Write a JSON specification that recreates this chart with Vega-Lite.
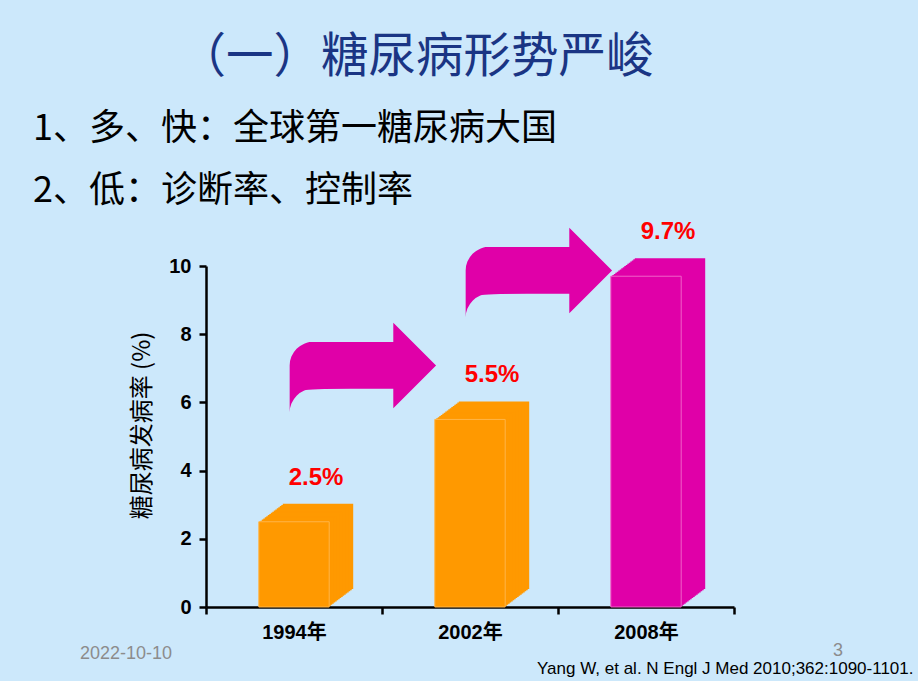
{
  "$schema": "https://vega.github.io/schema/vega-lite/v6.json",
  "background": "#CCE8FB",
  "padding": {"left": 33, "top": 34, "right": 5, "bottom": 5},
  "config": {"view": {"stroke": null}, "concat": {"spacing": 0}},
  "title": {"text": "（一）糖尿病形势严峻", "anchor": "middle", "dx": -57, "font": "Noto Sans CJK SC", "fontSize": 47.5, "fontWeight": "normal", "color": "#1A3584", "offset": 29},
  "datasets": {
    "bars": [
      {"year": "1994年", "rate": 2.5, "label": "2.5%"},
      {"year": "2002年", "rate": 5.5, "label": "5.5%"},
      {"year": "2008年", "rate": 9.7, "label": "9.7%"}
    ],
    "arrows": [
      {"year": "1994年", "level": 7.0},
      {"year": "2002年", "level": 9.8}
    ]
  },
  "vconcat": [
    {
      "title": {"text": "3", "orient": "bottom", "anchor": "end", "dx": -70, "dy": -34, "font": "Liberation Sans", "fontSize": 18, "fontWeight": "normal", "color": "#8C8C8C", "offset": 0},
      "vconcat": [
        {
          "title": {"text": "2022-10-10", "orient": "bottom", "anchor": "start", "dx": 47, "dy": -31, "font": "Liberation Sans", "fontSize": 18, "fontWeight": "normal", "color": "#8C8C8C", "offset": 0},
          "vconcat": [
            {
              "width": 528,
              "height": 341,
              "title": {"text": ["1、多、快：全球第一糖尿病大国", "2、低：诊断率、控制率"], "anchor": "start", "frame": "group", "dx": -173, "font": "Noto Sans CJK SC", "fontSize": 36, "fontWeight": "normal", "color": "#000000", "lineHeight": 62, "offset": -37},
              "encoding": {
                "x": {"field": "year", "type": "nominal", "sort": null, "title": "Yang W, et al. N Engl J Med 2010;362:1090-1101.",
                  "scale": {"domain": ["1994年", "2002年", "2008年"], "paddingInner": 0, "paddingOuter": 0},
                  "axis": {"labelAngle": 0, "tickBand": "extent", "domainColor": "#000000", "domainWidth": 2.5, "tickColor": "#000000", "tickWidth": 2.5, "tickSize": 7, "labelFont": "Liberation Sans, Noto Sans CJK SC", "labelFontSize": 20, "labelFontWeight": "bold", "labelColor": "#000000", "labelPadding": 8, "titleFont": "Liberation Sans", "titleFontSize": 17, "titleFontWeight": "normal", "titleColor": "#000000", "titleX": 707, "titleY": 61, "titleAlign": "right", "titleBaseline": "middle"}
                }
              },
              "layer": [
                {
                  "data": {"name": "bars"},
                  "encoding": {
                    "y": {"field": "rate", "type": "quantitative", "title": "糖尿病发病率 (%)",
                      "scale": {"domain": [0, 10]},
                      "axis": {"values": [0, 1, 2, 3, 4, 5, 6, 7, 8, 9, 10], "labelExpr": "datum.value % 2 === 0 ? datum.label : ''", "grid": false, "domainColor": "#000000", "domainWidth": 2.5, "tickColor": "#000000", "tickWidth": 2.5, "tickSize": 7, "labelFont": "Liberation Sans", "labelFontSize": 20, "labelFontWeight": "bold", "labelColor": "#000000", "labelPadding": 8, "titleFont": "Noto Sans CJK SC", "titleFontSize": 24, "titleFontWeight": "normal", "titleColor": "#000000", "titlePadding": 14, "titleY": 159}
                    },
                    "color": {"field": "year", "type": "nominal", "scale": {"domain": ["1994年", "2002年", "2008年"], "range": ["#FF9900", "#FF9900", "#E000A8"]}, "legend": null}
                  },
                  "layer": [
                    {"mark": {"type": "bar", "width": {"band": 0.4}, "xOffset": 24, "yOffset": -18, "y2Offset": -18}},
                    {"mark": {"type": "bar", "width": {"band": 0.4}, "xOffset": 22.5, "yOffset": -16.875, "y2Offset": -16.875}},
                    {"mark": {"type": "bar", "width": {"band": 0.4}, "xOffset": 21, "yOffset": -15.75, "y2Offset": -15.75}},
                    {"mark": {"type": "bar", "width": {"band": 0.4}, "xOffset": 19.5, "yOffset": -14.625, "y2Offset": -14.625}},
                    {"mark": {"type": "bar", "width": {"band": 0.4}, "xOffset": 18, "yOffset": -13.5, "y2Offset": -13.5}},
                    {"mark": {"type": "bar", "width": {"band": 0.4}, "xOffset": 16.5, "yOffset": -12.375, "y2Offset": -12.375}},
                    {"mark": {"type": "bar", "width": {"band": 0.4}, "xOffset": 15, "yOffset": -11.25, "y2Offset": -11.25}},
                    {"mark": {"type": "bar", "width": {"band": 0.4}, "xOffset": 13.5, "yOffset": -10.125, "y2Offset": -10.125}},
                    {"mark": {"type": "bar", "width": {"band": 0.4}, "xOffset": 12, "yOffset": -9, "y2Offset": -9}},
                    {"mark": {"type": "bar", "width": {"band": 0.4}, "xOffset": 10.5, "yOffset": -7.875, "y2Offset": -7.875}},
                    {"mark": {"type": "bar", "width": {"band": 0.4}, "xOffset": 9, "yOffset": -6.75, "y2Offset": -6.75}},
                    {"mark": {"type": "bar", "width": {"band": 0.4}, "xOffset": 7.5, "yOffset": -5.625, "y2Offset": -5.625}},
                    {"mark": {"type": "bar", "width": {"band": 0.4}, "xOffset": 6, "yOffset": -4.5, "y2Offset": -4.5}},
                    {"mark": {"type": "bar", "width": {"band": 0.4}, "xOffset": 4.5, "yOffset": -3.375, "y2Offset": -3.375}},
                    {"mark": {"type": "bar", "width": {"band": 0.4}, "xOffset": 3, "yOffset": -2.25, "y2Offset": -2.25}},
                    {"mark": {"type": "bar", "width": {"band": 0.4}, "xOffset": 1.5, "yOffset": -1.125, "y2Offset": -1.125}},
                    {"mark": {"type": "bar", "width": {"band": 0.4}, "strokeWidth": 1},
                     "encoding": {"stroke": {"field": "year", "type": "nominal", "scale": {"domain": ["1994年", "2002年", "2008年"], "range": ["#FFB547", "#FFB547", "#F060C8"]}, "legend": null}}}
                  ]
                },
                {
                  "data": {"name": "bars"},
                  "mark": {"type": "text", "font": "Liberation Sans", "fontSize": 24, "fontWeight": "bold", "color": "#FF0000", "dx": 22, "dy": -44, "baseline": "middle", "align": "center"},
                  "encoding": {
                    "y": {"field": "rate", "type": "quantitative", "title": "糖尿病发病率 (%)"},
                    "text": {"field": "label", "type": "nominal"}
                  }
                },
                {
                  "data": {"name": "arrows"},
                  "mark": {"type": "text", "text": "➦", "font": "DejaVu Sans", "fontSize": 200, "color": "#E000A8", "xOffset": 68, "baseline": "middle", "align": "center"},
                  "encoding": {
                    "y": {"field": "level", "type": "quantitative", "title": "糖尿病发病率 (%)"}
                  }
                }
              ]
            }
          ]
        }
      ]
    }
  ]
}
